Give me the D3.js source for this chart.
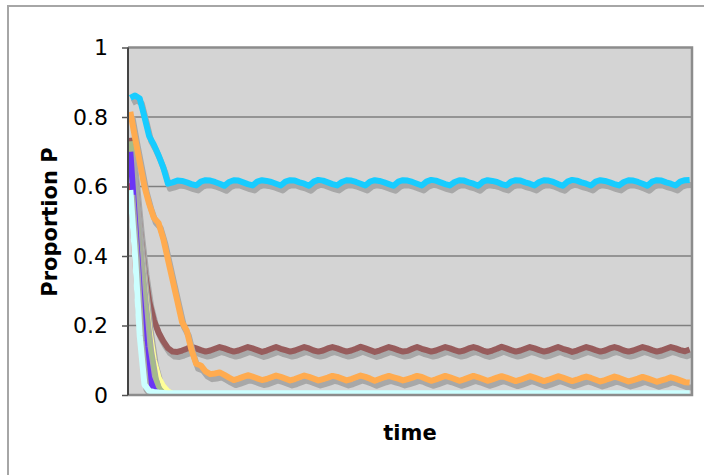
<!DOCTYPE html>
<html>
<head>
<meta charset="utf-8">
<script src="https://cdn.jsdelivr.net/npm/d3@7"></script>
<style>
  body { margin: 0; background: #fff; }
  text { font-family: "DejaVu Sans", Verdana, sans-serif; }
</style>
</head>
<body>
<script>
// time steps (category axis, no labels shown)
var categories = d3.range(1, 121);
var yTicks = [0, 0.2, 0.4, 0.6, 0.8, 1];

// series
var cyan = [
  0.855, 0.862, 0.853, 0.80, 0.745, 0.72, 0.69, 0.655, 0.608, 0.612, 0.617, 0.616,
  0.612, 0.607, 0.603, 0.614, 0.618, 0.617, 0.613, 0.608, 0.602, 0.613, 0.618, 0.617,
  0.612, 0.607, 0.603, 0.614, 0.618, 0.616, 0.613, 0.608, 0.603, 0.614, 0.618, 0.617,
  0.612, 0.608, 0.602, 0.614, 0.619, 0.617, 0.612, 0.607, 0.603, 0.613, 0.618, 0.617,
  0.613, 0.608, 0.603, 0.614, 0.618, 0.616, 0.612, 0.607, 0.602, 0.614, 0.618, 0.617,
  0.613, 0.608, 0.603, 0.614, 0.619, 0.617, 0.612, 0.607, 0.603, 0.613, 0.618, 0.617,
  0.612, 0.608, 0.602, 0.614, 0.618, 0.616, 0.613, 0.607, 0.603, 0.614, 0.618, 0.617,
  0.612, 0.608, 0.603, 0.613, 0.618, 0.617, 0.613, 0.607, 0.602, 0.614, 0.619, 0.617,
  0.612, 0.608, 0.603, 0.614, 0.618, 0.616, 0.612, 0.607, 0.603, 0.613, 0.618, 0.617,
  0.613, 0.608, 0.602, 0.614, 0.618, 0.617, 0.612, 0.608, 0.603, 0.614, 0.618, 0.619
];
var brown = [
  0.74, 0.62, 0.48, 0.36, 0.27, 0.215, 0.18, 0.155, 0.135, 0.125, 0.124, 0.128,
  0.133, 0.139, 0.134, 0.129, 0.125, 0.128, 0.133, 0.138, 0.134, 0.129, 0.125, 0.128,
  0.133, 0.138, 0.134, 0.129, 0.124, 0.128, 0.133, 0.138, 0.133, 0.129, 0.125, 0.128,
  0.133, 0.138, 0.134, 0.128, 0.125, 0.128, 0.134, 0.138, 0.134, 0.129, 0.125, 0.128,
  0.133, 0.139, 0.134, 0.129, 0.124, 0.128, 0.133, 0.138, 0.134, 0.129, 0.125, 0.127,
  0.133, 0.138, 0.133, 0.129, 0.125, 0.128, 0.133, 0.138, 0.134, 0.129, 0.125, 0.128,
  0.134, 0.138, 0.134, 0.128, 0.124, 0.128, 0.133, 0.139, 0.134, 0.129, 0.125, 0.128,
  0.133, 0.138, 0.134, 0.129, 0.125, 0.128, 0.133, 0.138, 0.133, 0.129, 0.124, 0.128,
  0.133, 0.138, 0.134, 0.129, 0.125, 0.128, 0.134, 0.138, 0.134, 0.128, 0.125, 0.128,
  0.133, 0.138, 0.134, 0.129, 0.125, 0.128, 0.133, 0.138, 0.134, 0.129, 0.126, 0.131
];
var orange = [
  0.815, 0.74, 0.67, 0.60, 0.55, 0.51, 0.495, 0.45, 0.39, 0.33, 0.27, 0.21,
  0.185, 0.13, 0.09, 0.085, 0.068, 0.06, 0.062, 0.065, 0.058, 0.05, 0.043, 0.047,
  0.052, 0.057, 0.053, 0.048, 0.043, 0.046, 0.051, 0.056, 0.052, 0.047, 0.042, 0.046,
  0.051, 0.056, 0.052, 0.047, 0.042, 0.046, 0.050, 0.055, 0.052, 0.047, 0.042, 0.046,
  0.051, 0.056, 0.052, 0.047, 0.041, 0.046, 0.051, 0.055, 0.051, 0.047, 0.042, 0.046,
  0.050, 0.055, 0.052, 0.046, 0.041, 0.045, 0.050, 0.055, 0.051, 0.046, 0.041, 0.045,
  0.050, 0.055, 0.051, 0.046, 0.041, 0.045, 0.050, 0.054, 0.050, 0.045, 0.040, 0.044,
  0.049, 0.054, 0.050, 0.045, 0.040, 0.044, 0.049, 0.054, 0.050, 0.045, 0.040, 0.044,
  0.049, 0.053, 0.049, 0.044, 0.039, 0.043, 0.048, 0.053, 0.049, 0.044, 0.039, 0.043,
  0.047, 0.052, 0.048, 0.043, 0.038, 0.042, 0.046, 0.051, 0.047, 0.042, 0.037, 0.036
];
var lightCyan = [
  0.59, 0.40, 0.17, 0.03, 0.012, 0.009, 0.007, 0.006, 0.005, 0.005, 0.005, 0.005,
  0.005, 0.005, 0.005, 0.005, 0.005, 0.005, 0.005, 0.005, 0.005, 0.005, 0.005, 0.005,
  0.005, 0.005, 0.005, 0.005, 0.005, 0.005, 0.005, 0.005, 0.005, 0.005, 0.005, 0.005,
  0.005, 0.005, 0.005, 0.005, 0.005, 0.005, 0.005, 0.005, 0.005, 0.005, 0.005, 0.005,
  0.005, 0.005, 0.005, 0.005, 0.005, 0.005, 0.005, 0.005, 0.005, 0.005, 0.005, 0.005,
  0.005, 0.005, 0.005, 0.005, 0.005, 0.005, 0.005, 0.005, 0.005, 0.005, 0.005, 0.005,
  0.005, 0.005, 0.005, 0.005, 0.005, 0.005, 0.005, 0.005, 0.005, 0.005, 0.005, 0.005,
  0.005, 0.005, 0.005, 0.005, 0.005, 0.005, 0.005, 0.005, 0.005, 0.005, 0.005, 0.005,
  0.005, 0.005, 0.005, 0.005, 0.005, 0.005, 0.005, 0.005, 0.005, 0.005, 0.005, 0.005,
  0.005, 0.005, 0.005, 0.005, 0.005, 0.005, 0.005, 0.005, 0.005, 0.005, 0.005, 0.005
];
// fast-dying series: they sit at 0 from here on (hidden under the axis)
var red    = [0.61, 0.40, 0.20, 0.06, 0.01, 0, 0, 0, 0, 0, 0, 0];
var purple = [0.70, 0.50, 0.30, 0.14, 0.05, 0.015, 0.003, 0, 0, 0, 0, 0];
var green  = [0.73, 0.56, 0.40, 0.26, 0.14, 0.06, 0.02, 0.005, 0, 0, 0, 0];
var yellow = [0.72, 0.58, 0.44, 0.31, 0.19, 0.10, 0.05, 0.025, 0.01, 0.003, 0, 0];

var series = [
  { values: brown, color: '#975c5c' },
  { values: red, color: '#e0403a' },
  { values: yellow, color: '#ffff99' },
  { values: green, color: '#a4bb8a' },
  { values: purple, color: '#6a35f5' },
  { values: orange, color: '#ffab4f' },
  { values: cyan, color: '#17ccff' },
  { values: lightCyan, color: '#ccffff' }
];

var width = 704, height = 475;
var plot = { left: 128, right: 692, top: 47.5, bottom: 395 };

var svg = d3.select('body').append('svg')
  .attr('width', width)
  .attr('height', height);

// outer chart frame (top + left visible)
svg.append('path')
  .attr('d', 'M8,475 V6 H704')
  .attr('fill', 'none')
  .attr('stroke', '#a6a6a6')
  .attr('stroke-width', 2);

var xScale = d3.scalePoint().domain(categories).range([plot.left, plot.right]).padding(0.5);
var yScale = d3.scaleLinear().domain([0, 1]).range([plot.bottom, plot.top]);

svg.append('defs').append('clipPath').attr('id', 'clip')
  .append('rect')
  .attr('x', plot.left).attr('y', plot.top)
  .attr('width', plot.right - plot.left).attr('height', plot.bottom - plot.top);

// plot background
svg.append('rect')
  .attr('x', plot.left).attr('y', plot.top)
  .attr('width', plot.right - plot.left).attr('height', plot.bottom - plot.top)
  .attr('fill', '#d4d4d4');

// gridlines
svg.append('g')
  .selectAll('line')
  .data(yTicks.slice(1, -1))
  .join('line')
  .attr('x1', plot.left).attr('x2', plot.right)
  .attr('y1', function(d) { return yScale(d); })
  .attr('y2', function(d) { return yScale(d); })
  .attr('stroke', '#7f7f7f')
  .attr('stroke-width', 1.5);

var line = d3.line()
  .x(function(d, i) { return xScale(categories[i]); })
  .y(function(d) { return yScale(d); });

var lines = svg.append('g').attr('clip-path', 'url(#clip)');

// each series: gray drop shadow, then the coloured line
series.forEach(function(s) {
  lines.append('path')
    .attr('transform', 'translate(2,5)')
    .attr('d', line(s.values))
    .attr('fill', 'none')
    .attr('stroke', '#a8a8a8')
    .attr('stroke-width', 6)
    .attr('stroke-linejoin', 'round');
  lines.append('path')
    .attr('d', line(s.values))
    .attr('fill', 'none')
    .attr('stroke', s.color)
    .attr('stroke-width', 6)
    .attr('stroke-linejoin', 'round');
});

// plot border (top/right/bottom gray)
svg.append('path')
  .attr('d', `M${plot.left},${plot.top} H${plot.right} V${plot.bottom} H${plot.left}`)
  .attr('fill', 'none')
  .attr('stroke', '#8c8c8c')
  .attr('stroke-width', 2.5);

// y axis
var yAxis = svg.append('g')
  .attr('transform', `translate(${plot.left},0)`)
  .call(d3.axisLeft(yScale).tickValues(yTicks).tickFormat(d3.format('')).tickSize(6).tickPadding(14));

yAxis.select('.domain').attr('stroke', '#444').attr('stroke-width', 2)
  .attr('d', `M0,${plot.top}V${plot.bottom}`);
yAxis.selectAll('.tick line').attr('stroke', '#555').attr('stroke-width', 1.5);
yAxis.selectAll('.tick text')
  .attr('font-size', 22)
  .attr('fill', '#000')
  .style('font-family', '"DejaVu Sans", Verdana, sans-serif');

// axis titles
svg.append('text')
  .attr('transform', 'translate(57,222) rotate(-90)')
  .attr('text-anchor', 'middle')
  .attr('font-size', 21)
  .attr('font-weight', 'bold')
  .text('Proportion P');

svg.append('text')
  .attr('x', (plot.left + plot.right) / 2)
  .attr('y', 440)
  .attr('text-anchor', 'middle')
  .attr('font-size', 21)
  .attr('font-weight', 'bold')
  .text('time');
</script>
</body>
</html>
